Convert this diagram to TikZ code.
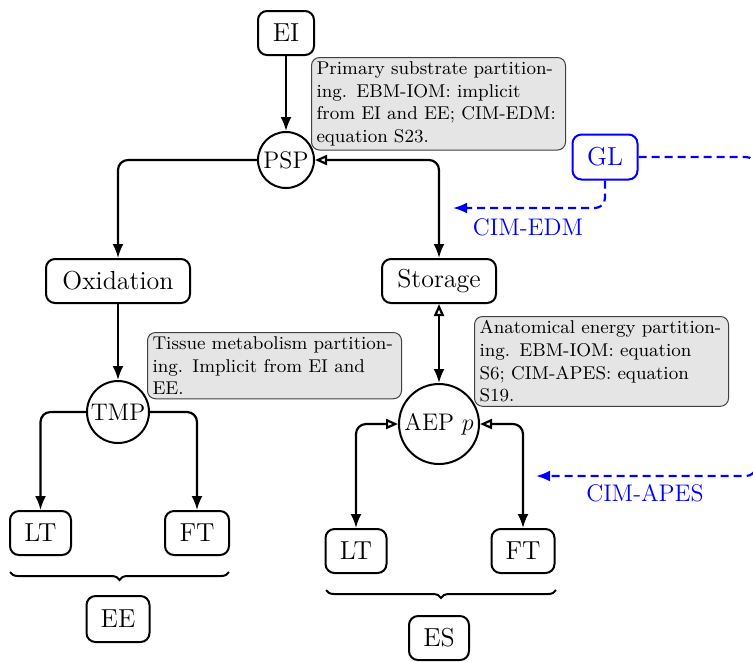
\documentclass[tikz,border=0pt]{standalone}
\usetikzlibrary{arrows.meta,decorations.pathreplacing}
\begin{document}
\begin{tikzpicture}[x=0.5pt,y=-0.5pt,
  box/.style={draw,line width=1pt,rounded corners=4.5pt,minimum height=22pt,inner sep=0pt,font=\fontsize{13}{15}\selectfont},
  circ/.style={draw,circle,line width=1pt,inner sep=0pt,font=\large},
  note/.style={draw=black!75,fill=gray!20,rounded corners=4pt,line width=0.5pt,font=\fontsize{9.25}{11.35}\selectfont,align=left,text width=122pt,inner xsep=2.5pt,inner ysep=2pt,anchor=north west},
  conn/.style={line width=1.1pt,rounded corners=5pt},
  fa/.style={-{Latex[length=7pt,width=5.5pt]}},
  oa/.style={{Triangle[open,length=6pt,width=5pt]}-{Latex[length=7pt,width=5.5pt]}},
  bl/.style={blue,dash pattern=on 4pt off 2.5pt,line width=1.1pt,rounded corners=5pt,-{Latex[length=7pt,width=5.5pt]}},
  brc/.style={decorate,decoration={brace,mirror,amplitude=4pt},line width=1pt}]
\useasboundingbox (0,0) rectangle (753,661);

% nodes
\node[box,minimum width=28pt] (ei) at (286,33) {EI};
\node[circ,minimum size=28pt] (psp) at (286,160) {PSP};
\node[box,minimum width=72pt] (ox) at (118,281) {Oxidation};
\node[box,minimum width=57pt] (st) at (439,281) {Storage};
\node[box,minimum width=32.5pt,minimum height=22.5pt,draw=blue,text=blue] (gl) at (605,157) {GL};
\node[circ,minimum size=31pt] (tmp) at (118,412) {TMP};
\node[box,minimum width=30.5pt] (lt1) at (40.5,533) {LT};
\node[box,minimum width=32pt] (ft1) at (197,533) {FT};
\node[box,minimum width=31.5pt,minimum height=23pt] (ee) at (118,619) {EE};
\node[circ,minimum size=40pt] (aep) at (439,424) {AEP $p$};
\node[box,minimum width=30.5pt] (lt2) at (356,551) {LT};
\node[box,minimum width=31.5pt] (ft2) at (523,551) {FT};
\node[box,minimum width=30pt] (es) at (439,638) {ES};

% notes
\node[note] (n1) at (311,57) {Primary substrate partition-\\ing.  EBM-IOM: implicit\\from EI and EE; CIM-EDM:\\equation S23.};
\node[note] (n2) at (147,332) {Tissue metabolism partition-\\ing. Implicit from EI and\\EE.};
\node[note] (n3) at (474,316) {Anatomical energy partition-\\ing.  EBM-IOM: equation\\S6; CIM-APES: equation\\S19.};

% connectors
\draw[conn,fa] (ei.south) -- (psp.north);
\draw[conn,fa] (psp.west) -| (ox.north);
\draw[conn,oa] (psp.east) -| (st.north);
\draw[conn,fa] (ox.south) -- (tmp.north);
\draw[conn,fa] (tmp.west) -| (lt1.north);
\draw[conn,fa] (tmp.east) -| (ft1.north);
\draw[conn,oa] (st.south) -- (aep.north);
\draw[conn,oa] (aep.west) -| (lt2.north);
\draw[conn,oa] (aep.east) -| (ft2.north);

% blue dashed
\coordinate (r1) at (756,157);
\coordinate (r2) at (756,476);
\coordinate (apes) at (536,476);
\coordinate (edm) at (453,208);
\draw[bl] (gl.east) -- (r1) -- (r2) -- (apes);
\draw[bl] (gl.south) |- (edm);
\node[blue,font=\large] (lab1) at (528,227) {CIM-EDM};
\node[blue,font=\large] (lab2) at (645,493) {CIM-APES};

% braces
\draw[brc] (10,572) -- (229,572);
\draw[brc] (326,590) -- (556,590);
\end{tikzpicture}
\end{document}
